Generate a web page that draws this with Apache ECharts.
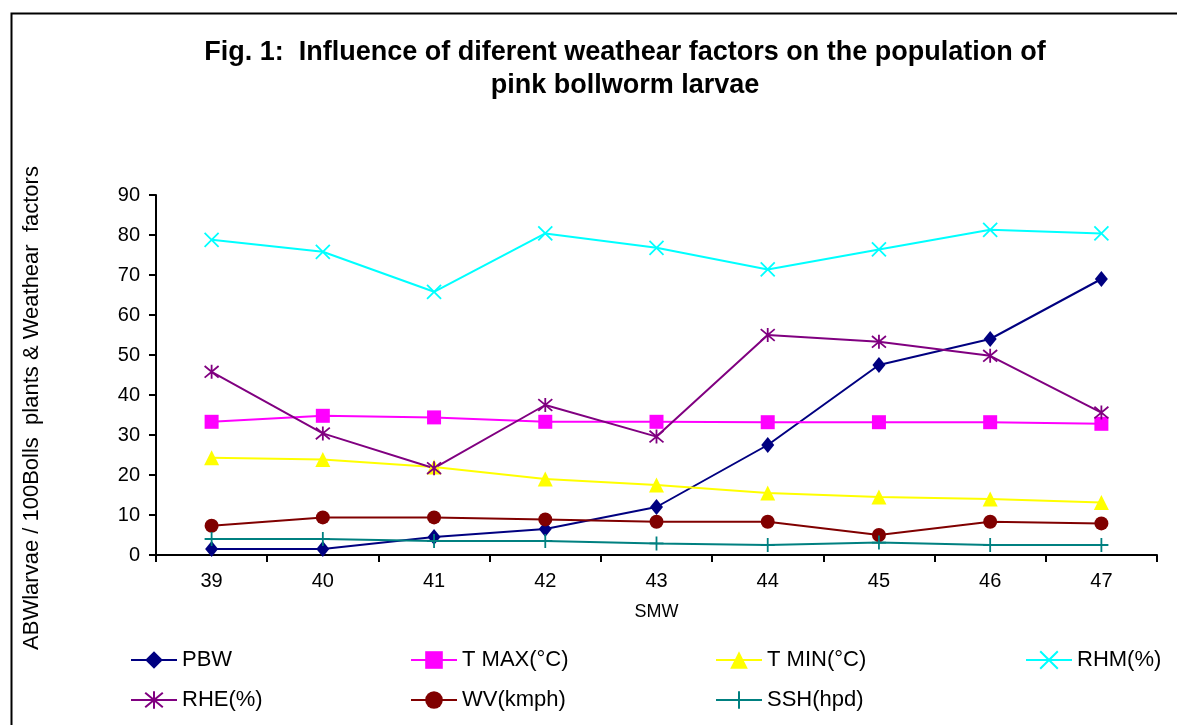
<!DOCTYPE html>
<html><head><meta charset="utf-8">
<script src="https://cdn.jsdelivr.net/npm/echarts@6/dist/echarts.min.js"></script>
<style>html,body{margin:0;padding:0;background:#fff}#c{width:1177px;height:725px}</style>
</head><body><div id="c"></div>
<script>
const categories = ['39','40','41','42','43','44','45','46','47'];
const PBW  = [1.5, 1.5, 4.5, 6.5, 12, 27.5, 47.5, 54, 69];
const TMAX = [33.3, 34.8, 34.4, 33.3, 33.3, 33.2, 33.2, 33.2, 32.8];
const TMIN = [24.3, 23.9, 22.0, 19.0, 17.5, 15.5, 14.5, 14.0, 13.1];
const RHM  = [78.8, 75.8, 65.8, 80.4, 76.8, 71.4, 76.4, 81.3, 80.4];
const RHE  = [45.8, 30.4, 21.7, 37.5, 29.6, 55.0, 53.3, 49.8, 35.6];
const WV   = [7.3, 9.4, 9.4, 8.9, 8.3, 8.3, 5.0, 8.3, 7.9];
const SSH  = [4.0, 4.0, 3.5, 3.5, 2.9, 2.5, 3.1, 2.5, 2.5];

const X_PATH = 'path://M0,0L10,10M10,0L0,10';
const STAR_PATH = 'path://M0,0L10,10M10,0L0,10M5,-1L5,11';
const PLUS_PATH = 'path://M5,0L5,10M0,5L10,5';

const seriesDefs = [
  {name:'PBW', data:PBW, color:'#000080', symbol:'diamond', size:[13,16], fill:true},
  {name:'T MAX(°C)', data:TMAX, color:'#FF00FF', symbol:'rect', size:14, fill:true},
  {name:'T MIN(°C)', data:TMIN, color:'#FFFF00', symbol:'triangle', size:15, fill:true},
  {name:'RHM(%)', data:RHM, color:'#00FFFF', symbol:X_PATH, size:14, fill:false},
  {name:'RHE(%)', data:RHE, color:'#800080', symbol:STAR_PATH, size:14, fill:false},
  {name:'WV(kmph)', data:WV, color:'#800000', symbol:'circle', size:14, fill:true},
  {name:'SSH(hpd)', data:SSH, color:'#008080', symbol:PLUS_PATH, size:14, fill:false}
];

const series = seriesDefs.map(d => ({
  name:d.name, type:'line', data:d.data, symbol:d.symbol, symbolSize:d.size,
  showAllSymbol:true, animation:false,
  lineStyle:{color:d.color, width:2},
  itemStyle: d.fill ? {color:d.color, borderWidth:0, opacity:1}
                    : {color:'rgba(0,0,0,0)', borderColor:d.color, borderWidth:1.8, opacity:1},
  emphasis:{disabled:true}
}));

const legendPos = [
  [125,644],[405,644],[710,644],[1020,644],
  [125,684],[405,684],[710,684]
];
const legends = seriesDefs.map((d,i)=>({
  data:[d.name], left:legendPos[i][0], top:legendPos[i][1],
  itemWidth:46, itemHeight:22, itemGap:8,
  textStyle:{fontFamily:'Liberation Sans, Arial', fontSize:22, color:'#000'},
  selectedMode:false
}));

const chart = echarts.init(document.getElementById('c'));
chart.setOption({
  backgroundColor:'#fff',
  animation:false,
  title:{
    text:'Fig. 1:  Influence of diferent weathear factors on the population of\npink bollworm larvae',
    left:620, textAlign:'center', top:31,
    textStyle:{fontFamily:'Liberation Sans, Arial', fontSize:27, fontWeight:'bold', color:'#000', lineHeight:33}
  },
  legend: legends,
  grid:{left:156, right:20, top:195, bottom:170},
  xAxis:{
    type:'category', data:categories, boundaryGap:true,
    name:'SMW', nameLocation:'middle', nameGap:48,
    nameTextStyle:{fontFamily:'Liberation Sans, Arial', fontSize:18, color:'#000'},
    axisLine:{lineStyle:{color:'#000', width:2}},
    axisTick:{show:true, length:7, lineStyle:{color:'#000', width:2}},
    axisLabel:{fontFamily:'Liberation Sans, Arial', fontSize:20, color:'#000', margin:16},
    splitLine:{show:false}
  },
  yAxis:{
    type:'value', min:0, max:90, interval:10,
    axisLine:{show:true, lineStyle:{color:'#000', width:2}},
    axisTick:{show:true, length:7, lineStyle:{color:'#000', width:2}},
    axisLabel:{fontFamily:'Liberation Sans, Arial', fontSize:20, color:'#000', margin:16},
    splitLine:{show:false}
  },
  graphic:[{
    type:'rect', left:9, top:11, shape:{width:1200, height:760},
    style:{fill:'none', stroke:'#000', lineWidth:2}, silent:true
  },{
    type:'text', x:32, y:408, rotation:Math.PI/2, silent:true,
    style:{text:'ABWlarvae / 100Bolls  plants & Weathear  factors',
      fontFamily:'Liberation Sans, Arial', fontSize:22, fill:'#000',
      textAlign:'center', textVerticalAlign:'middle'}
  }],
  series: series
});
</script></body></html>
